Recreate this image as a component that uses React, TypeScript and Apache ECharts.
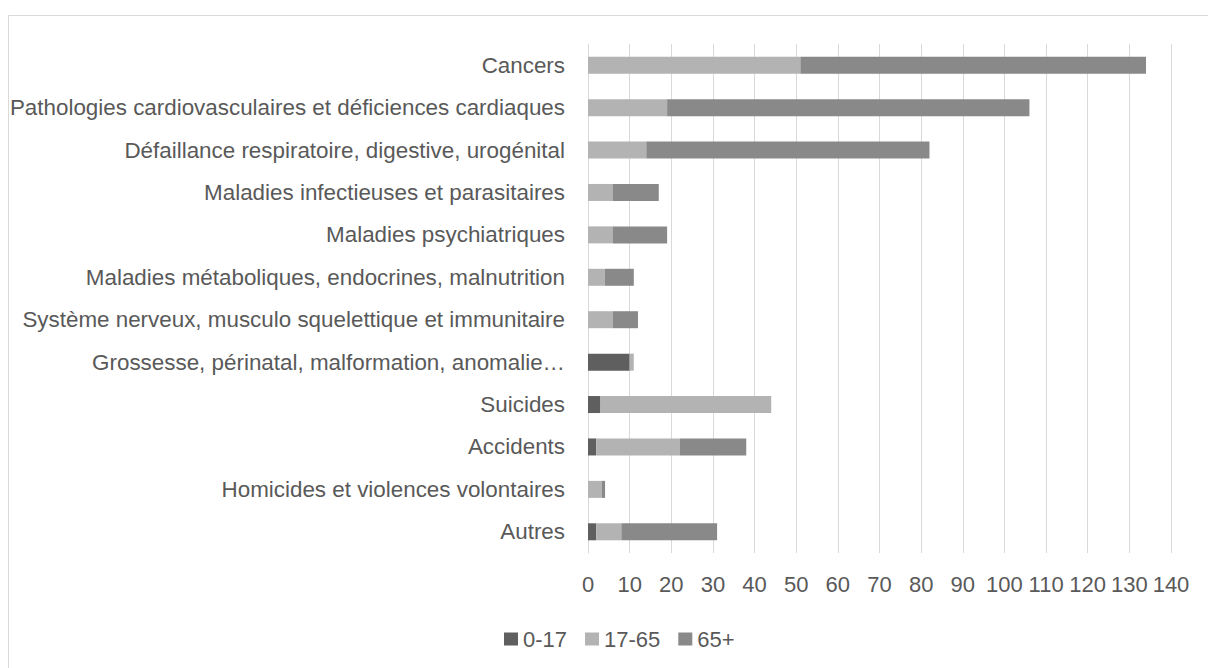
import React, { useEffect, useRef } from "react";
import * as echarts from "echarts";

const categories = [
  "Cancers",
  "Pathologies cardiovasculaires et déficiences cardiaques",
  "Défaillance respiratoire, digestive, urogénital",
  "Maladies infectieuses et parasitaires",
  "Maladies psychiatriques",
  "Maladies métaboliques, endocrines, malnutrition",
  "Système nerveux, musculo squelettique et immunitaire",
  "Grossesse, périnatal, malformation, anomalie…",
  "Suicides",
  "Accidents",
  "Homicides et violences volontaires",
  "Autres",
];

const seriesNames = ["0-17", "17-65", "65+"];
const age0to17 = [0, 0, 0, 0, 0, 0, 0, 10, 3, 2, 0, 2];
const age17to65 = [51, 19, 14, 6, 6, 4, 6, 1, 41, 20, 3.3, 6];
const age65plus = [83, 87, 68, 11, 13, 7, 6, 0, 0, 16, 0.8, 23];
const xTicks = { min: 0, max: 140, interval: 10 };

const colors = ["#5f5f5f", "#b3b3b3", "#898989"];
const textColor = "#595959";
const fontFamily = "'Liberation Sans', Arial, sans-serif";

export default function App() {
  const ref = useRef<HTMLDivElement>(null);

  useEffect(() => {
    if (!ref.current) return;
    const chart = echarts.init(ref.current, null, { renderer: "svg" });
    const data = [age0to17, age17to65, age65plus];
    chart.setOption({
      animation: false,
      backgroundColor: "#ffffff",
      textStyle: { fontFamily },
      graphic: [
        {
          type: "rect",
          shape: { x: 8.5, y: 15.5, width: 1400, height: 800 },
          style: { fill: "none", stroke: "#d9d9d9", lineWidth: 1 },
          silent: true,
        },
      ],
      grid: { left: 588, right: 37, top: 44, bottom: 115, containLabel: false },
      legend: {
        data: seriesNames,
        left: 499,
        top: 623,
        itemWidth: 14,
        itemHeight: 13,
        itemGap: 18,
        icon: "rect",
        textStyle: { color: textColor, fontSize: 22, fontFamily },
      },
      xAxis: {
        type: "value",
        min: xTicks.min,
        max: xTicks.max,
        interval: xTicks.interval,
        axisLine: { show: false },
        axisTick: { show: false },
        splitLine: { show: true, lineStyle: { color: "#d9d9d9", width: 1 } },
        axisLabel: { color: textColor, fontSize: 22, margin: 20, fontFamily },
      },
      yAxis: {
        type: "category",
        data: categories,
        inverse: true,
        axisLine: { show: true, lineStyle: { color: "#d9d9d9" } },
        axisTick: { show: false },
        axisLabel: { color: textColor, fontSize: 22.4, margin: 23, fontFamily },
      },
      series: seriesNames.map((name, i) => ({
        name,
        type: "bar",
        stack: "total",
        data: data[i],
        barWidth: 17,
        itemStyle: { color: colors[i] },
      })),
    });
    return () => chart.dispose();
  }, []);

  return (
    <div
      ref={ref}
      style={{ position: "fixed", left: 0, top: 0, width: 1208, height: 668 }}
    />
  );
}
